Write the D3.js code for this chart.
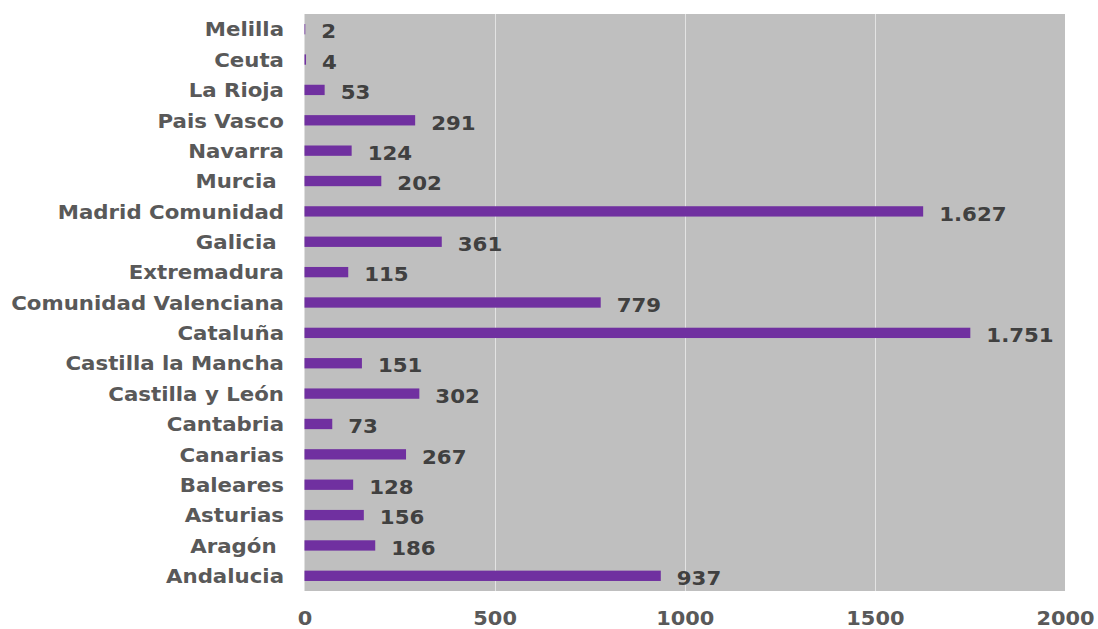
<!DOCTYPE html>
<html>
<head>
<meta charset="utf-8">
<script src="https://cdn.jsdelivr.net/npm/d3@7"></script>
<style>
  html, body { margin: 0; padding: 0; background: #ffffff; }
  svg { display: block; }
  text { font-family: "DejaVu Sans", Verdana, sans-serif; font-weight: bold; }
</style>
</head>
<body>
<svg id="chart" width="1098" height="629"></svg>
<script>
// Regions listed bottom to top, as drawn on the vertical axis
const regions = [
  "Andalucia", "Aragón ", "Asturias", "Baleares", "Canarias", "Cantabria",
  "Castilla y León", "Castilla la Mancha", "Cataluña", "Comunidad Valenciana",
  "Extremadura", "Galicia ", "Madrid Comunidad", "Murcia ", "Navarra",
  "Pais Vasco", "La Rioja", "Ceuta", "Melilla"
];
const counts = [
  937, 186, 156, 128, 267, 73,
  302, 151, 1751, 779,
  115, 361, 1627, 202, 124,
  291, 53, 4, 2
];
const xTicks = [0, 500, 1000, 1500, 2000];

const svg = d3.select("#chart");
const plot = { left: 304.5, right: 1065, top: 14, bottom: 591 };
const stretch = 1.065; // the typeface is set slightly wide

const x = d3.scaleLinear().domain([0, 2000]).range([plot.left, plot.right]);
const y = d3.scaleBand()
  .domain(regions.slice().reverse())
  .range([plot.top, plot.bottom])
  .paddingInner(0.66)
  .paddingOuter(0.33);

const es = d3.formatLocale({ decimal: ",", thousands: ".", grouping: [3], currency: ["", " €"] });
const fmt = es.format(",d");

// plot background
svg.append("rect")
  .attr("x", plot.left).attr("y", plot.top)
  .attr("width", plot.right - plot.left).attr("height", plot.bottom - plot.top)
  .attr("fill", "#BFBFBF");

// vertical gridlines
svg.append("g").selectAll("line")
  .data(xTicks.filter(t => t > 0 && t < 2000))
  .join("line")
  .attr("x1", d => Math.round(x(d)) + 0.5).attr("x2", d => Math.round(x(d)) + 0.5)
  .attr("y1", plot.top).attr("y2", plot.bottom)
  .attr("stroke", "#E3E3E3").attr("stroke-width", 1);

// x axis labels
const xAxis = d3.axisBottom(x).tickValues(xTicks).tickSize(0).tickPadding(0).tickFormat(d3.format("d"));
const gx = svg.append("g").attr("transform", `translate(0,${plot.bottom})`).call(xAxis);
gx.select(".domain").remove();
gx.selectAll("text")
  .attr("x", 0).attr("y", 0).attr("dy", null)
  .attr("transform", `translate(0,34) scale(1.1,1)`)
  .attr("fill", "#595959")
  .style("font-size", "19px");

// y axis labels
const yAxis = d3.axisLeft(y).tickSize(0).tickPadding(0);
const gy = svg.append("g").attr("transform", `translate(${plot.left - 20.5},0)`).call(yAxis);
gy.select(".domain").remove();
gy.selectAll("text")
  .attr("x", 0).attr("dy", "0.36em")
  .attr("transform", `scale(${stretch},1)`)
  .attr("xml:space", "preserve")
  .style("white-space", "pre")
  .attr("fill", "#595959")
  .style("font-size", "20px");

// bars
svg.append("g").selectAll("rect")
  .data(regions.map((r, i) => ({ region: r, value: counts[i] })))
  .join("rect")
  .attr("x", x(0))
  .attr("y", d => y(d.region))
  .attr("width", d => x(d.value) - x(0))
  .attr("height", y.bandwidth())
  .attr("fill", "#7030A0");

// value labels
svg.append("g").selectAll("text")
  .data(regions.map((r, i) => ({ region: r, value: counts[i] })))
  .join("text")
  .attr("transform", d => `translate(${x(d.value) + 16},${y(d.region) + y.bandwidth() / 2 + 2}) scale(${stretch},1)`)
  .attr("dy", "0.36em")
  .attr("fill", "#404040")
  .style("font-size", "20px")
  .text(d => fmt(d.value));
</script>
</body>
</html>
